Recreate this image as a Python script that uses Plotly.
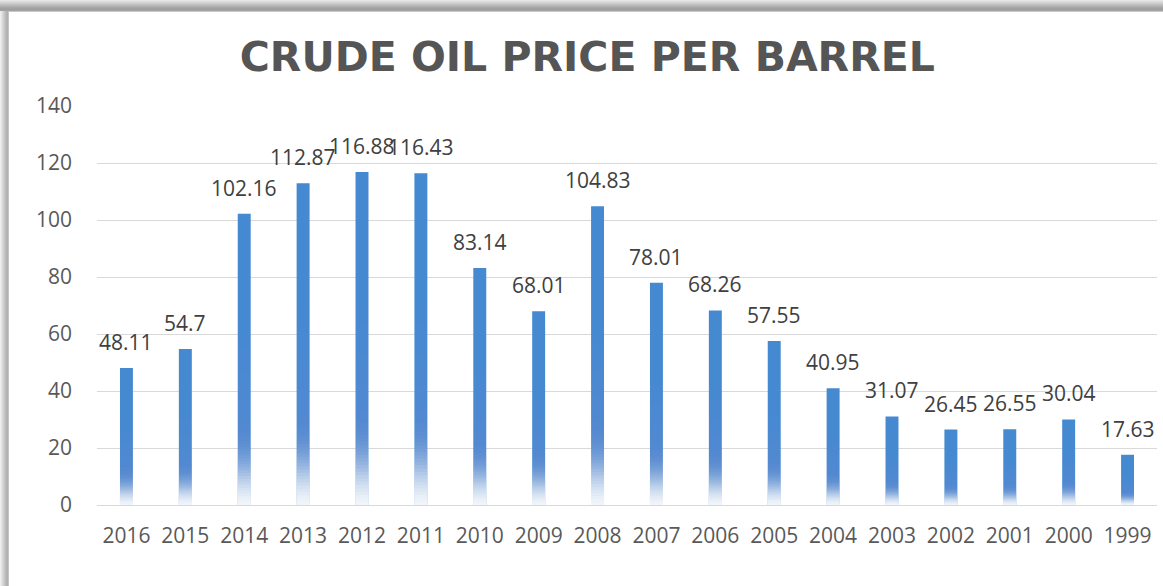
import plotly.graph_objects as go

years = ["2016", "2015", "2014", "2013", "2012", "2011", "2010", "2009", "2008",
         "2007", "2006", "2005", "2004", "2003", "2002", "2001", "2000", "1999"]
prices = [48.11, 54.7, 102.16, 112.87, 116.88, 116.43, 83.14, 68.01, 104.83,
          78.01, 68.26, 57.55, 40.95, 31.07, 26.45, 26.55, 30.04, 17.63]
labels = ["48.11", "54.7", "102.16", "112.87", "116.88", "116.43", "83.14", "68.01", "104.83",
          "78.01", "68.26", "57.55", "40.95", "31.07", "26.45", "26.55", "30.04", "17.63"]
y_ticks = [0, 20, 40, 60, 80, 100, 120, 140]

# plot-area geometry in pixels (for the background card)
L, R, T, B = 97, 1157, 106, 505
W, H = R - L, B - T


def px_x(p):
    return (p - L) / W


def px_y(p):
    return (B - p) / H


BAR_W = 0.22
fig = go.Figure()
fig.add_trace(go.Bar(
    x=years, y=prices, width=BAR_W,
    marker=dict(color="#4589d1", line=dict(width=0)),
    hoverinfo="skip",
))

# gradient fade toward the bottom: nested white overlays (all starting at 0),
# each covering a fraction of the bar's height; stronger near the base
N = 30
layers = []
for k in range(N):
    f = 0.30 * (k + 1) / N
    a = 0.006 + 0.26 * (1 - f / 0.30) ** 2.2
    layers.append((f, a))
layers += [(0.30 + 0.30 * (k + 1) / 10, 0.007) for k in range(10)]
for frac, alpha in sorted(layers, reverse=True):
    fig.add_trace(go.Bar(
        x=years, y=[v * frac for v in prices],
        width=BAR_W + 0.004,
        marker=dict(color=f"rgba(255,255,255,{alpha:.3f})", line=dict(width=0)),
        hoverinfo="skip", showlegend=False,
    ))

# value labels (category axis: position by category index)
annotations = [
    dict(x=i, y=v, xref="x", yref="y", text=lab, showarrow=False, yanchor="bottom", yshift=10,
         font=dict(family="Open Sans", size=21, color="#404040"))
    for i, (v, lab) in enumerate(zip(prices, labels))
]

shapes = [
    dict(type="rect", xref="paper", yref="paper", layer="below",
         x0=px_x(0), x1=px_x(1163), y0=px_y(0), y1=px_y(586),
         fillcolor="#ffffff", line=dict(width=0)),
]
top_cols = ["#e6e6e6", "#dddddd", "#d4d4d4", "#cbcbcb", "#c2c2c2", "#b9b9b9",
            "#b0b0b0", "#a8a8a8", "#a2a2a2", "#9e9e9e", "#a4a4a4", "#c8c8c8"]
for i, c in enumerate(top_cols):
    shapes.append(dict(type="rect", xref="paper", yref="paper", layer="below",
                       x0=px_x(0), x1=px_x(1163), y0=px_y(i + 1), y1=px_y(i),
                       fillcolor=c, line=dict(width=0)))
left_cols = ["#eeeeee", "#e4e4e4", "#dadada", "#d0d0d0", "#c6c6c6", "#bcbcbc",
             "#b4b4b4", "#b0b0b0", "#c4c4c4"]
for i, c in enumerate(left_cols):
    shapes.append(dict(type="rect", xref="paper", yref="paper", layer="below",
                       x0=px_x(i), x1=px_x(i + 1), y0=px_y(586), y1=px_y(len(top_cols) - 1),
                       fillcolor=c, line=dict(width=0)))

fig.update_layout(
    width=1163, height=586,
    margin=dict(l=L, r=1163 - R, t=T, b=586 - B, autoexpand=False),
    paper_bgcolor="#ffffff", plot_bgcolor="rgba(0,0,0,0)",
    barmode="overlay", showlegend=False,
    title=dict(text="CRUDE OIL PRICE PER BARREL", x=0.505, xanchor="center",
               y=1 - 57 / 586, yanchor="middle",
               font=dict(family="DejaVu Sans", size=41, color="#555555", weight="bold")),
    xaxis=dict(type="category", categoryorder="array", categoryarray=years,
               range=[-0.5, len(years) - 0.5],
               showgrid=False, showline=True, linecolor="#d9d9d9",
               linewidth=1, ticks="", ticklabelstandoff=12, automargin=False,
               tickfont=dict(family="Open Sans", size=21, color="#595959")),
    yaxis=dict(range=[0, 140], tickvals=y_ticks, showgrid=True, gridcolor="#d9d9d9",
               gridwidth=1, zeroline=False, ticks="", ticklabelstandoff=24, automargin=False,
               tickfont=dict(family="Open Sans", size=21, color="#595959")),
    shapes=shapes,
    annotations=annotations,
)

fig.write_html("out.html", config={"displayModeBar": False},
               post_script="document.body.style.margin='0';document.body.style.overflow='hidden';")
